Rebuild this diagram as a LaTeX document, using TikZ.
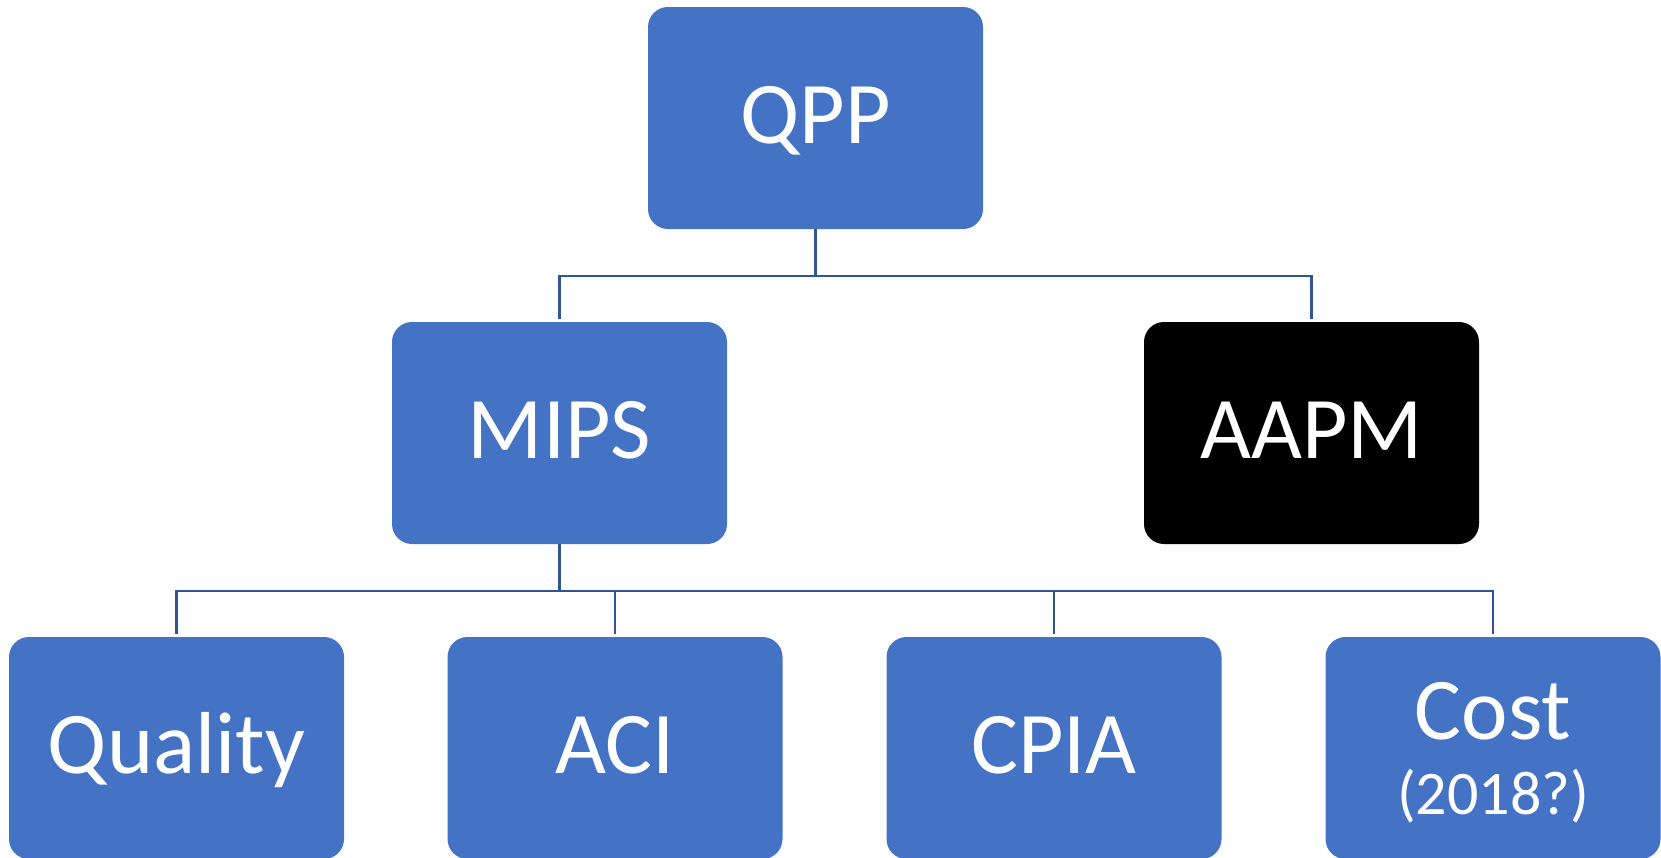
\documentclass[tikz,border=0pt]{standalone}
\usepackage{fontspec}
\setmainfont{Carlito}
\definecolor{boxblue}{HTML}{4472C4}
\definecolor{linkblue}{HTML}{2F5597}
\begin{document}
\begin{tikzpicture}[x=1pt,y=-1pt,
  box/.style={rounded corners=20pt, fill=boxblue, text=white,
    minimum width=335pt, minimum height=222pt, inner sep=0pt,
    font=\fontsize{88}{100}\selectfont, text height=51pt, text depth=0pt},
  darkbox/.style={box, fill=black},
  link/.style={draw=linkblue, line width=2.5pt, shorten >=3pt}]
\useasboundingbox (0,0) rectangle (1661,857);
\clip (0,0) rectangle (1661,857);
% top level
\node[box] (qpp) at (815.5,118) {QPP};
% second level
\node[box] (mips) at (559.5,433) {MIPS};
\node[darkbox] (aapm) at (1311.5,433) {AAPM};
% third level
\node[box] (quality) at (176.5,748) {Quality};
\node[box] (aci) at (615,748) {ACI};
\node[box] (cpia) at (1054,748) {CPIA};
\node[box, align=center, text height=, text depth=] (cost) at (1493,748)
  {Cost\\[-25pt]{\fontsize{62}{70}\selectfont\raisebox{0pt}[\height][0pt]{(2018?)}}};
% connectors
\draw[link] (qpp.south) -- ++(0,47) -| (mips.north);
\draw[link] (qpp.south) -- ++(0,47) -| (aapm.north);
\foreach \c in {quality,aci,cpia,cost}
  \draw[link] (mips.south) -- ++(0,47) -| (\c.north);
\end{tikzpicture}
\end{document}
